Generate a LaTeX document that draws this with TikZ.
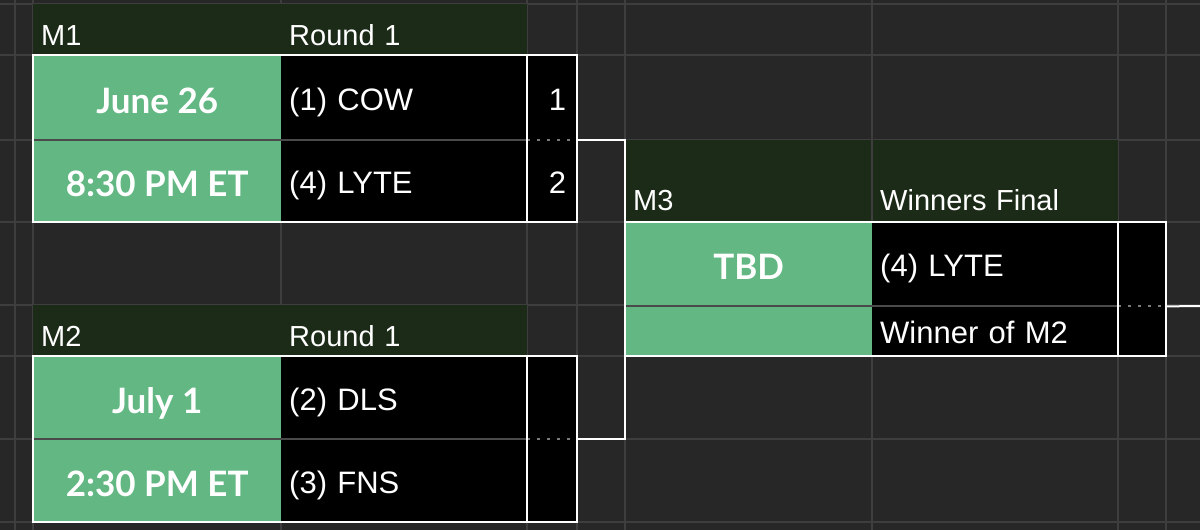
\documentclass[tikz,border=0pt]{standalone}
\usepackage{fontspec}
\setmainfont{Liberation Sans}
\newfontfamily\datefont{Lato}
\definecolor{sheetbg}{HTML}{272727}
\definecolor{gridline}{HTML}{3E3E3E}
\definecolor{hdrgreen}{HTML}{1C2B17}
\definecolor{dategreen}{HTML}{62B783}
\definecolor{divider}{HTML}{4A4A4A}
\definecolor{dots}{HTML}{7A7A7A}

\begin{document}
\begin{tikzpicture}[x=1pt, y=-1pt]
    \tikzstyle{hdr} = [rectangle, fill=hdrgreen, anchor=north west, inner xsep=8pt, inner ysep=0pt, align=left, text=white, font=\fontsize{29}{31}\selectfont]
    \tikzstyle{datecell} = [rectangle, fill=dategreen, anchor=north west, minimum width=248pt, inner sep=0pt, text=white, font=\datefont\bfseries\fontsize{35}{37}\selectfont, text height=31pt, text depth=0pt]
    \tikzstyle{team} = [rectangle, fill=black, anchor=north west, inner xsep=8pt, inner ysep=0pt, text width=230pt, align=left, text=white, font=\fontsize{31}{33}\selectfont, text height=25pt, text depth=0pt]
    \tikzstyle{score} = [team, inner xsep=11pt, text width=28pt, align=right]
    \tikzstyle{frame} = [draw=white, line width=2pt]
    \tikzstyle{bracket} = [white, line width=2pt]
    \tikzstyle{split} = [divider, line width=2pt]
    \tikzstyle{gap} = [dots, line width=2pt, dash pattern=on 3pt off 7pt]

    \fill[sheetbg] (0,0) rectangle (1200,530);
    \useasboundingbox (0,0) rectangle (1200,530);
    \foreach \gx in {15,33,281,527,577,625,872,1118,1166}
        \draw[gridline, line width=2pt] (\gx,0) -- (\gx,530);
    \foreach \gy in {4,55,140,222,305,356,439,522}
        \draw[gridline, line width=2pt] (0,\gy) -- (1200,\gy);

    \node[hdr, text width=232pt, minimum height=51pt, text height=36pt, text depth=5pt] (h1id) at (33,4) {M1};
    \node[hdr, text width=230pt, minimum height=51pt, text height=36pt, text depth=5pt] (h1rd) at (281,4) {Round 1};
    \node[datecell, minimum height=85pt] (m1d) at (33,55) {June 26};
    \node[datecell, minimum height=82pt] (m1t) at (33,140) {8:30 PM ET};
    \node[team, minimum height=85pt] (m1a) at (281,55) {(1) COW};
    \node[team, minimum height=82pt] (m1b) at (281,140) {(4) LYTE};
    \node[score, minimum height=85pt] (m1sa) at (527,55) {1};
    \node[score, minimum height=82pt] (m1sb) at (527,140) {2};
    \draw[split] (m1d.south west) -- (m1a.south east);
    \draw[gap] (m1sa.south west) -- (m1sa.south east);
    \draw[frame] (m1d.north west) rectangle (m1sb.south east);
    \draw[frame] (m1sa.north west) -- (m1sb.south west);

    \node[hdr, text width=232pt, minimum height=51pt, text height=36pt, text depth=5pt] (h2id) at (33,305) {M2};
    \node[hdr, text width=230pt, minimum height=51pt, text height=36pt, text depth=5pt] (h2rd) at (281,305) {Round 1};
    \node[datecell, minimum height=83pt] (m2d) at (33,356) {July 1};
    \node[datecell, minimum height=83pt] (m2t) at (33,439) {2:30 PM ET};
    \node[team, minimum height=83pt] (m2a) at (281,356) {(2) DLS};
    \node[team, minimum height=83pt] (m2b) at (281,439) {(3) FNS};
    \node[score, minimum height=83pt] (m2sa) at (527,356) {};
    \node[score, minimum height=83pt] (m2sb) at (527,439) {};
    \draw[split] (m2d.south west) -- (m2a.south east);
    \draw[gap] (m2sa.south west) -- (m2sa.south east);
    \draw[frame] (m2d.north west) rectangle (m2sb.south east);
    \draw[frame] (m2sa.north west) -- (m2sb.south west);

    \node[hdr, text width=231pt, minimum height=82pt, text height=64pt, text depth=6pt] (h3id) at (625,140) {M3};
    \node[hdr, text width=230pt, minimum height=82pt, text height=64pt, text depth=6pt] (h3rd) at (872,140) {Winners Final};
    \draw[gridline, line width=2pt] (h3id.north east) -- (h3id.south east);
    \node[datecell, minimum width=247pt, minimum height=84pt] (m3d) at (625,222) {TBD};
    \node[datecell, minimum width=247pt, minimum height=50pt] (m3e) at (625,306) {};
    \node[team, minimum height=84pt] (m3a) at (872,222) {(4) LYTE};
    \node[team, minimum height=50pt] (m3b) at (872,306) {Winner of M2};
    \node[score, text width=26pt, minimum height=84pt] (m3sa) at (1118,222) {};
    \node[score, text width=26pt, minimum height=50pt] (m3sb) at (1118,306) {};
    \draw[split] (m3d.south west) -- (m3a.south east);
    \draw[gap] (m3sa.south west) -- (m3sa.south east);
    \draw[frame] (m3d.north west) rectangle (m3sb.south east);
    \draw[frame] (m3sa.north west) -- (m3sb.south west);

    \draw[bracket] (m1sa.south east) -| (m3d.north west) |- (m2sa.south east);
    \coordinate (m3out) at (1200,306);
    \draw[bracket] (m3sa.south east) -- (m3out);
\end{tikzpicture}
\end{document}
